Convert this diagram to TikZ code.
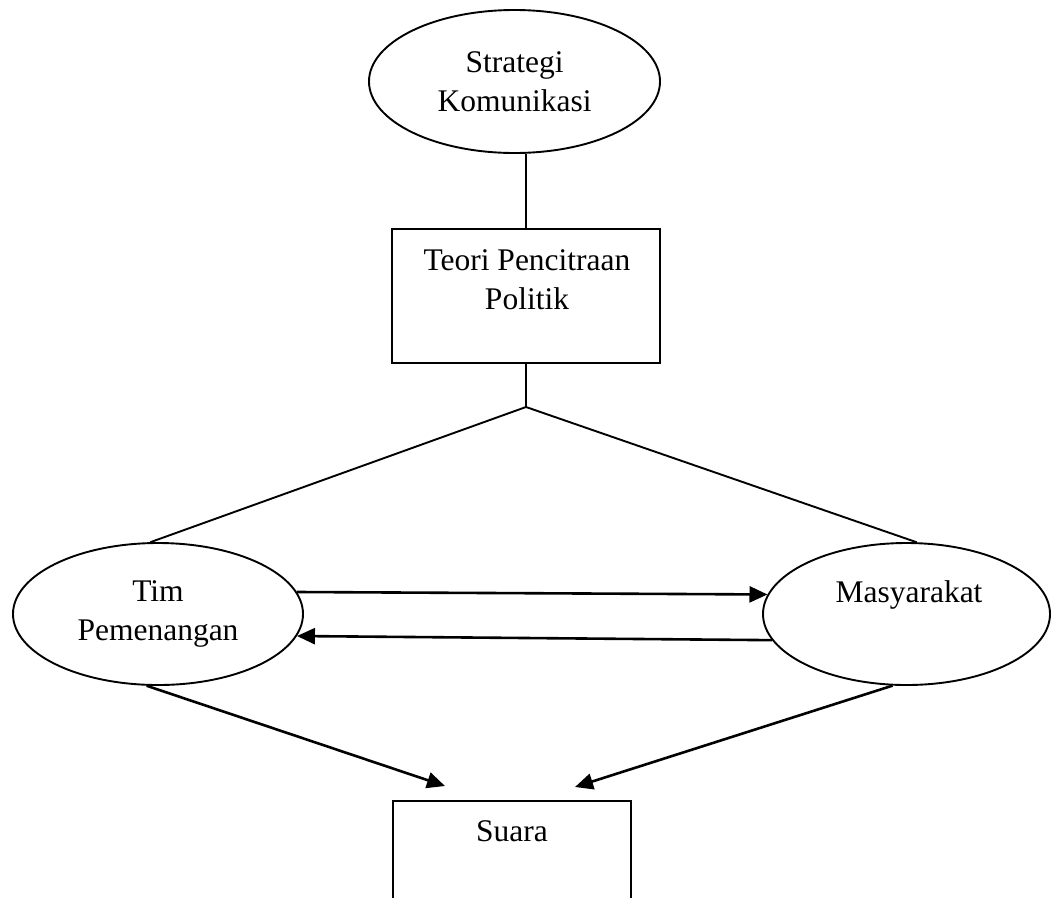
\documentclass[tikz,border=0pt]{standalone}
\usepackage{fontspec}
\setmainfont{Liberation Serif}
\usetikzlibrary{shapes.geometric,arrows.meta}
\begin{document}
\begin{tikzpicture}[x=1pt,y=-1pt,
  ell/.style={draw,ellipse,line width=1.9pt,inner sep=0pt},
  boxn/.style={draw,rectangle,line width=1.9pt,inner sep=0pt},
  txt/.style={font=\fontsize{31.5}{39}\selectfont,align=center,inner sep=0pt},
  ln/.style={line width=1.9pt},
  arr/.style={line width=2.6pt,-{Triangle[length=18pt,width=16pt]}}]
\useasboundingbox (0,0) rectangle (1051,897);
\clip (0,0) rectangle (1051,897);
\node[ell,txt,minimum width=291pt,minimum height=143pt] (strat) at (514.5,81.5) {Strategi\\Komunikasi};
\node[boxn,minimum width=268pt,minimum height=134pt] (teori) at (526,296) {};
\node[txt] (teoriT) at (527,280) {Teori Pencitraan\\Politik};
\coordinate (apex) at (526,407);
\node[ell,txt,minimum width=290pt,minimum height=142pt] (tim) at (158,614) {Tim\\Pemenangan};
\node[ell,minimum width=287pt,minimum height=142pt] (masy) at (906.5,614) {};
\node[txt,anchor=base] (masyT) at (909,602) {Masyarakat};
\node[boxn,minimum width=238pt,minimum height=140pt,anchor=north west] (suara) at (392,800) {};
\node[txt,anchor=base] (suaraT) at (512,841) {Suara};
\coordinate (sL) at (445,786);
\coordinate (sR) at (575,787);
\draw[ln] (teori.north |- strat.south) -- (teori.north);
\draw[ln] (teori.south) -- (apex);
\draw[ln] (apex) -- (tim.96);
\draw[ln] (apex) -- (masy.82);
\draw[arr] (tim.9) -- (masy.172);
\draw[arr] (masy.191) -- (tim.351);
\draw[arr] (tim.261) -- (sL);
\draw[arr] (masy.259) -- (sR);
\end{tikzpicture}
\end{document}
